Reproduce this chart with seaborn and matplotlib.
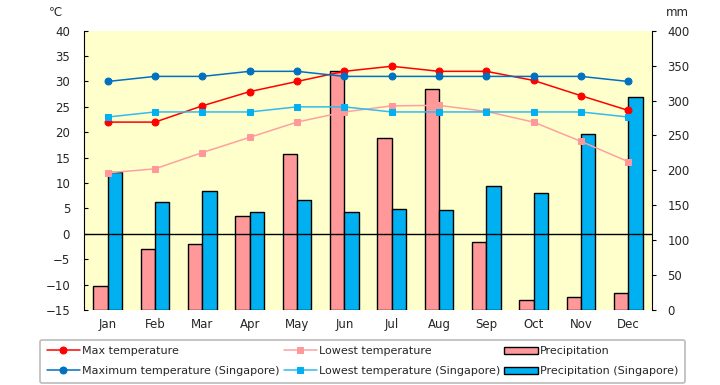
import pandas as pd
import numpy as np
import seaborn as sns
import matplotlib.pyplot as plt

months = ['Jan', 'Feb', 'Mar', 'Apr', 'May', 'Jun', 'Jul', 'Aug', 'Sep', 'Oct', 'Nov', 'Dec']
max_temp = [22, 22, 25.2, 28, 30, 32, 33, 32, 32, 30.2, 27.2, 24.3]
low_temp = [12, 12.8, 16, 19, 22, 24, 25.2, 25.3, 24.1, 22, 18.2, 14.2]
max_temp_sg = [30, 31, 31, 32, 32, 31, 31, 31, 31, 31, 31, 30]
low_temp_sg = [23, 24, 24, 24, 25, 25, 24, 24, 24, 24, 24, 23]
precip = [35, 87, 94, 134, 224, 343, 246, 317, 97, 15, 18, 25]
precip_sg = [197, 154, 171, 140, 157, 140, 144, 143, 177, 167, 252, 305]

sns.set_style("white")
plt.rcParams['font.family'] = ['DejaVu Sans', 'Noto Sans CJK JP']

fig = plt.figure(figsize=(7.2, 3.85), dpi=100)
ax = fig.add_axes([84 / 720, 1 - 310 / 385, 568 / 720, 279.3 / 385])
ax2 = ax.twinx()

# bars on the bottom axes (right scale), lines on the twin (left scale)
bars = pd.DataFrame({
    'month': months * 2,
    'mm': precip + precip_sg,
    'series': ['Precipitation'] * 12 + ['Precipitation (Singapore)'] * 12,
})
sns.barplot(data=bars, x='month', y='mm', hue='series', ax=ax,
            palette=['#FF9999', '#00B0F0'], width=0.6, gap=0,
            edgecolor='black', linewidth=1, saturation=1, legend=False)
ax.set_facecolor('#FFFFCC')
ax.set_ylim(0, 400)
ax.set_yticks(range(0, 401, 50))
ax.yaxis.tick_right()
ax.set_xlim(-0.5, 11.5)

xpos = np.arange(len(months))
line_specs = [
    (max_temp, 'Max temperature', '#FF0000', '#FF0000', 'o', 5),
    (max_temp_sg, 'Maximum temperature (Singapore)', '#0070C0', '#0070C0', 'o', 5),
    (low_temp, 'Lowest temperature', '#FFA0A0', '#FF9999', 's', 5),
    (low_temp_sg, 'Lowest temperature (Singapore)', '#33BBEE', '#00B0F0', 's', 5),
]
for vals, name, lc, mc, mk, ms in line_specs:
    sns.lineplot(x=xpos, y=vals, ax=ax2, color=lc, marker=mk, markersize=ms,
                 markerfacecolor=mc, markeredgecolor=mc, linewidth=1.1, label=name)
ax2.axhline(0, color='black', linewidth=1)
ax2.set_ylim(-15, 40)
ax2.set_yticks(range(-15, 41, 5))
ax2.yaxis.tick_left()
ax2.patch.set_visible(False)

for a in (ax, ax2):
    a.set_xlabel('')
    a.set_ylabel('')
    a.spines['top'].set_visible(False)
    a.spines['bottom'].set_visible(False)
    a.tick_params(axis='both', labelsize=8.5, length=3, color='black')
    a.tick_params(axis='x', length=0, pad=6)
ax2.spines['left'].set_visible(True)
ax2.spines['left'].set_color('black')
ax2.spines['right'].set_visible(False)
ax.spines['left'].set_visible(False)
ax.spines['right'].set_color('black')
ax.set_xticks(xpos)
ax.set_xticklabels(months)
ax2.tick_params(axis='y', direction='in', pad=10)
ax.tick_params(axis='y', direction='out', pad=8)

fig.text(56 / 720, 1 - 12 / 385, '℃', fontsize=8.5, ha='center', va='center')
fig.text(677 / 720, 1 - 12 / 385, 'mm', fontsize=8.5, ha='center', va='center')

h2, l2 = ax2.get_legend_handles_labels()
ax2.get_legend().remove()
h1 = list(ax.patches[:1]) + list(ax.patches[12:13])
handles = h2 + h1
labels = l2 + ['Precipitation', 'Precipitation (Singapore)']
leg = fig.legend(handles, labels, ncol=3, loc='lower left',
                 bbox_to_anchor=(40 / 720, 2 / 385, 645 / 720, 50 / 385),
                 mode='expand', fontsize=8, frameon=True, fancybox=True,
                 edgecolor='#AAAAAA', handlelength=3, handletextpad=0.2,
                 borderaxespad=0, labelspacing=0.9, borderpad=0.6)
leg.get_frame().set_linewidth(1.2)

plt.savefig('out.png', dpi=100)
plt.close()
